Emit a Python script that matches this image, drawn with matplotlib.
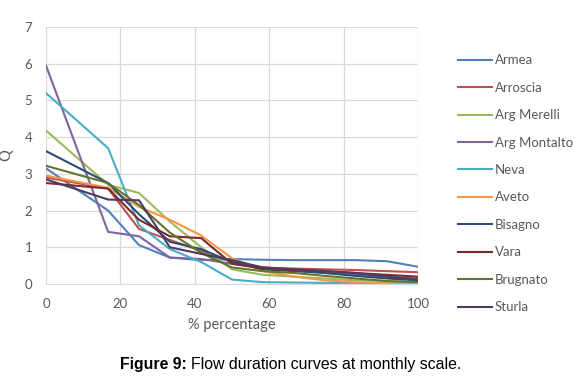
import matplotlib
matplotlib.use("Agg")
import matplotlib.pyplot as plt

x = [0, 16.7, 25, 33.3, 41.7, 50, 58.3, 66.7, 75, 83.3, 91.7, 100]

names = ["Armea", "Arroscia", "Arg Merelli", "Arg Montalto", "Neva",
         "Aveto", "Bisagno", "Vara", "Brugnato", "Sturla"]

armea = [3.15, 2.0, 1.06, 0.72, 0.65, 0.68, 0.66, 0.65, 0.65, 0.65, 0.62, 0.47]
arroscia = [2.9, 2.6, 1.5, 1.2, 0.9, 0.6, 0.45, 0.42, 0.4, 0.38, 0.35, 0.32]
arg_merelli = [4.18, 2.7, 2.48, 1.7, 1.0, 0.4, 0.25, 0.2, 0.15, 0.1, 0.08, 0.05]
arg_montalto = [5.95, 1.42, 1.3, 0.72, 0.68, 0.55, 0.45, 0.38, 0.3, 0.25, 0.2, 0.15]
neva = [5.2, 3.7, 1.6, 0.95, 0.6, 0.12, 0.05, 0.04, 0.03, 0.03, 0.02, 0.02]
aveto = [2.95, 2.62, 2.1, 1.75, 1.32, 0.7, 0.35, 0.2, 0.1, 0.05, 0.02, 0.0]
bisagno = [3.62, 2.75, 1.9, 1.15, 0.95, 0.6, 0.4, 0.35, 0.3, 0.22, 0.15, 0.1]
vara = [2.75, 2.6, 1.75, 1.3, 1.25, 0.55, 0.42, 0.38, 0.35, 0.3, 0.25, 0.2]
brugnato = [3.22, 2.75, 2.15, 1.4, 0.85, 0.45, 0.35, 0.3, 0.22, 0.15, 0.08, 0.05]
sturla = [2.85, 2.3, 2.28, 1.0, 0.82, 0.65, 0.45, 0.4, 0.35, 0.3, 0.2, 0.12]

series = [armea, arroscia, arg_merelli, arg_montalto, neva,
          aveto, bisagno, vara, brugnato, sturla]
colors = ["#4F81BD", "#C0504D", "#9BBB59", "#8064A2", "#4BACC6",
          "#F79646", "#2C4D75", "#772C2A", "#5F7530", "#4D3B62"]

plt.rcParams['font.family'] = ['Lato', 'DejaVu Sans']

fig = plt.figure(figsize=(5.86, 3.76), dpi=100)
ax = fig.add_axes([46/586, (376-284)/376, 372/586, 257/376])

for name, ys, c in zip(names, series, colors):
    ax.plot(x, ys, color=c, lw=1.5, label=name)

ax.set_xlim(0, 100)
ax.set_ylim(0, 7)
ax.set_xticks(range(0, 101, 20))
ax.set_yticks(range(0, 8))
ax.grid(True, color="#D9D9D9", lw=0.9)
ax.set_axisbelow(True)
for s in ["top", "right", "left"]:
    ax.spines[s].set_visible(False)
ax.spines["bottom"].set_color("#D9D9D9")
ax.tick_params(length=0, colors="#595959", labelsize=9.5, pad=10)
ax.set_xlabel("% percentage", color="#595959", fontsize=10.5, labelpad=6)
ax.set_ylabel("Q", color="#595959", fontsize=10.5, labelpad=8)

leg = ax.legend(loc="upper left", bbox_to_anchor=(1.075, 0.94), frameon=False,
                fontsize=9.5, labelspacing=1.17, handlelength=2.6,
                handletextpad=0.2, labelcolor="#595959")

yc = 1 - 364/376
t1 = fig.text(120/586, yc, "Figure 9:", fontweight="bold",
              family="Liberation Sans", fontsize=11.4, va="center", ha="left")
fig.canvas.draw()
bb = t1.get_window_extent(renderer=fig.canvas.get_renderer())
fig.text((bb.x1 + 4)/586, yc, "Flow duration curves at monthly scale.",
         family="Liberation Sans", fontsize=11.4, va="center", ha="left")

fig.savefig("out.png", dpi=100)
